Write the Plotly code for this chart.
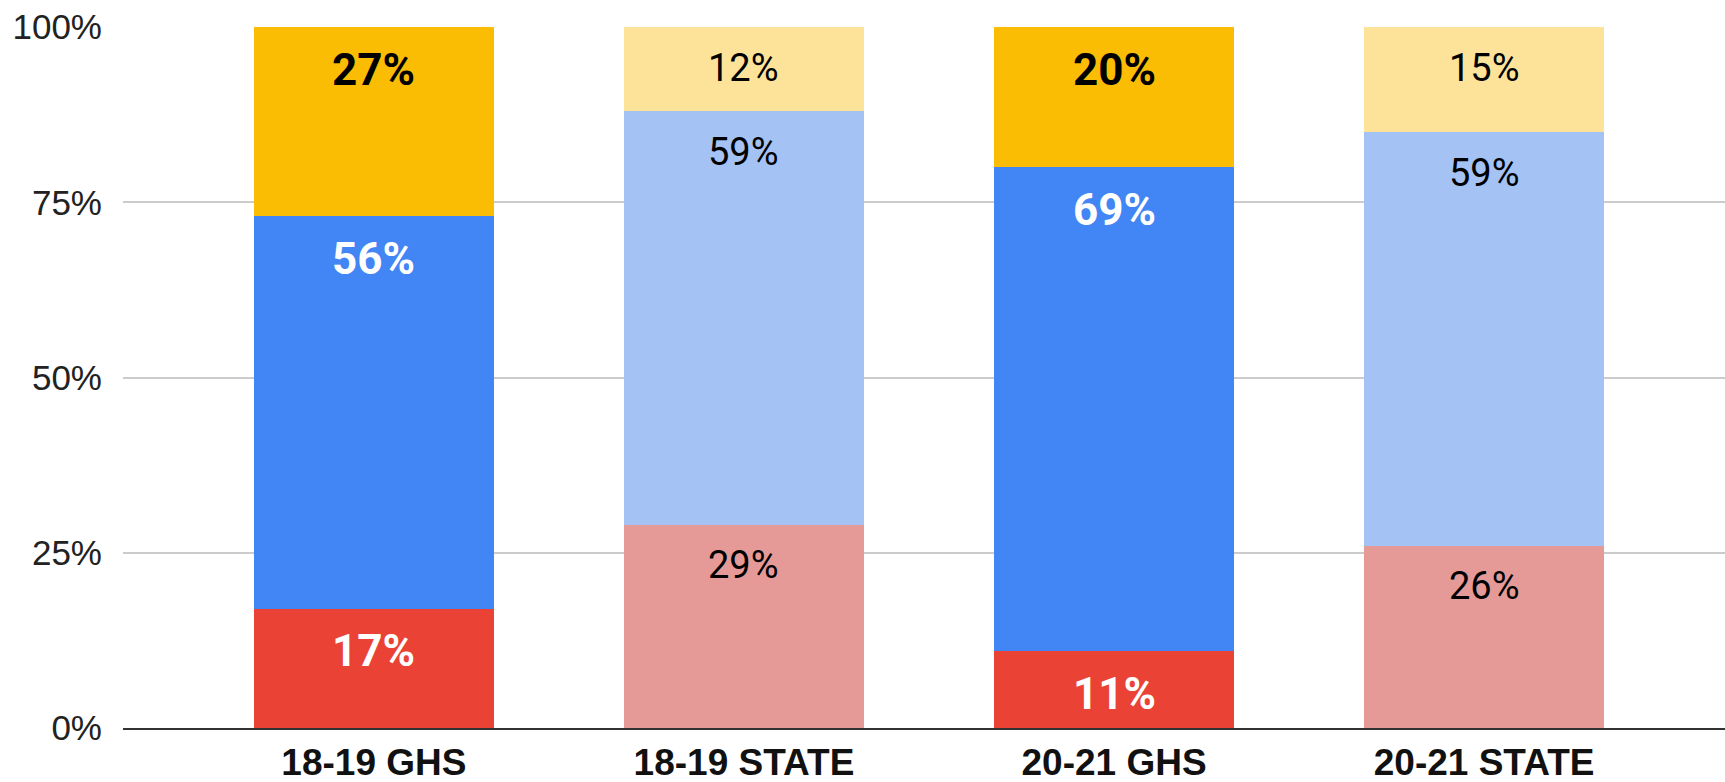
import plotly.graph_objects as go

categories = ["18-19 GHS", "18-19 STATE", "20-21 GHS", "20-21 STATE"]
bottom_vals = [17, 29, 11, 26]
middle_vals = [56, 59, 69, 59]
top_vals = [27, 12, 20, 15]

bottom_colors = ["#EA4335", "#E69A98", "#EA4335", "#E69A98"]
middle_colors = ["#4285F4", "#A4C2F4", "#4285F4", "#A4C2F4"]
top_colors = ["#FBBC04", "#FDE39A", "#FBBC04", "#FDE39A"]

is_school = [True, False, True, False]
label_colors = {
    "bottom": ["white", "black", "white", "black"],
    "middle": ["white", "black", "white", "black"],
    "top": ["black", "black", "black", "black"],
}

y_ticks = [0, 25, 50, 75, 100]

fig = go.Figure()
series = [
    ("bottom", bottom_vals, bottom_colors),
    ("middle", middle_vals, middle_colors),
    ("top", top_vals, top_colors),
]
for name, vals, cols in series:
    fig.add_trace(go.Bar(
        x=categories, y=vals, name=name,
        marker=dict(color=cols, line=dict(width=0)),
        hoverinfo="skip",
    ))

# labels near top of each segment
cum = [0] * len(categories)
annotations = []
for name, vals, cols in series:
    for j, cat in enumerate(categories):
        cum[j] += vals[j]
        bold = is_school[j]
        size = 44 if bold else 38
        digit_h = 0.711 * size
        txt = f"<b>{vals[j]}%</b>" if bold else f"{vals[j]}%"
        annotations.append(dict(
            x=cat, y=cum[j], xref="x", yref="y",
            text=txt, showarrow=False,
            yanchor="middle", xanchor="center",
            yshift=-(27 + digit_h / 2),
            font=dict(family="Roboto", size=size, color=label_colors[name][j]),
        ))

fig.update_layout(
    barmode="stack",
    bargap=0.35,
    width=1725, height=782,
    margin=dict(l=123, r=0, t=27, b=54, pad=0, autoexpand=False),
    paper_bgcolor="white", plot_bgcolor="white",
    showlegend=False,
    annotations=annotations,
    font=dict(family="Liberation Sans, Arial", color="#222"),
)
fig.update_xaxes(
    range=[-0.678, 3.651],
    automargin=False,
    showgrid=False,
    showline=True, linecolor="#333333", linewidth=2,
    ticks="", ticklabelstandoff=1,
    tickfont=dict(family="Liberation Sans, Arial", size=37, color="#111"),
    tickprefix="<b>", ticksuffix="</b>",
)
fig.update_yaxes(
    range=[0, 100],
    automargin=False,
    tickvals=y_ticks, ticktext=[f"{v}%" for v in y_ticks],
    showgrid=True, gridcolor="#CCCCCC", gridwidth=2,
    zeroline=False,
    ticks="", ticklabelstandoff=20,
    tickfont=dict(family="Liberation Sans, Arial", size=35, color="#222"),
)

fig.write_html(
    "out.html",
    config={"displayModeBar": False},
    post_script="document.body.style.margin='0';document.body.style.overflow='hidden';",
)
